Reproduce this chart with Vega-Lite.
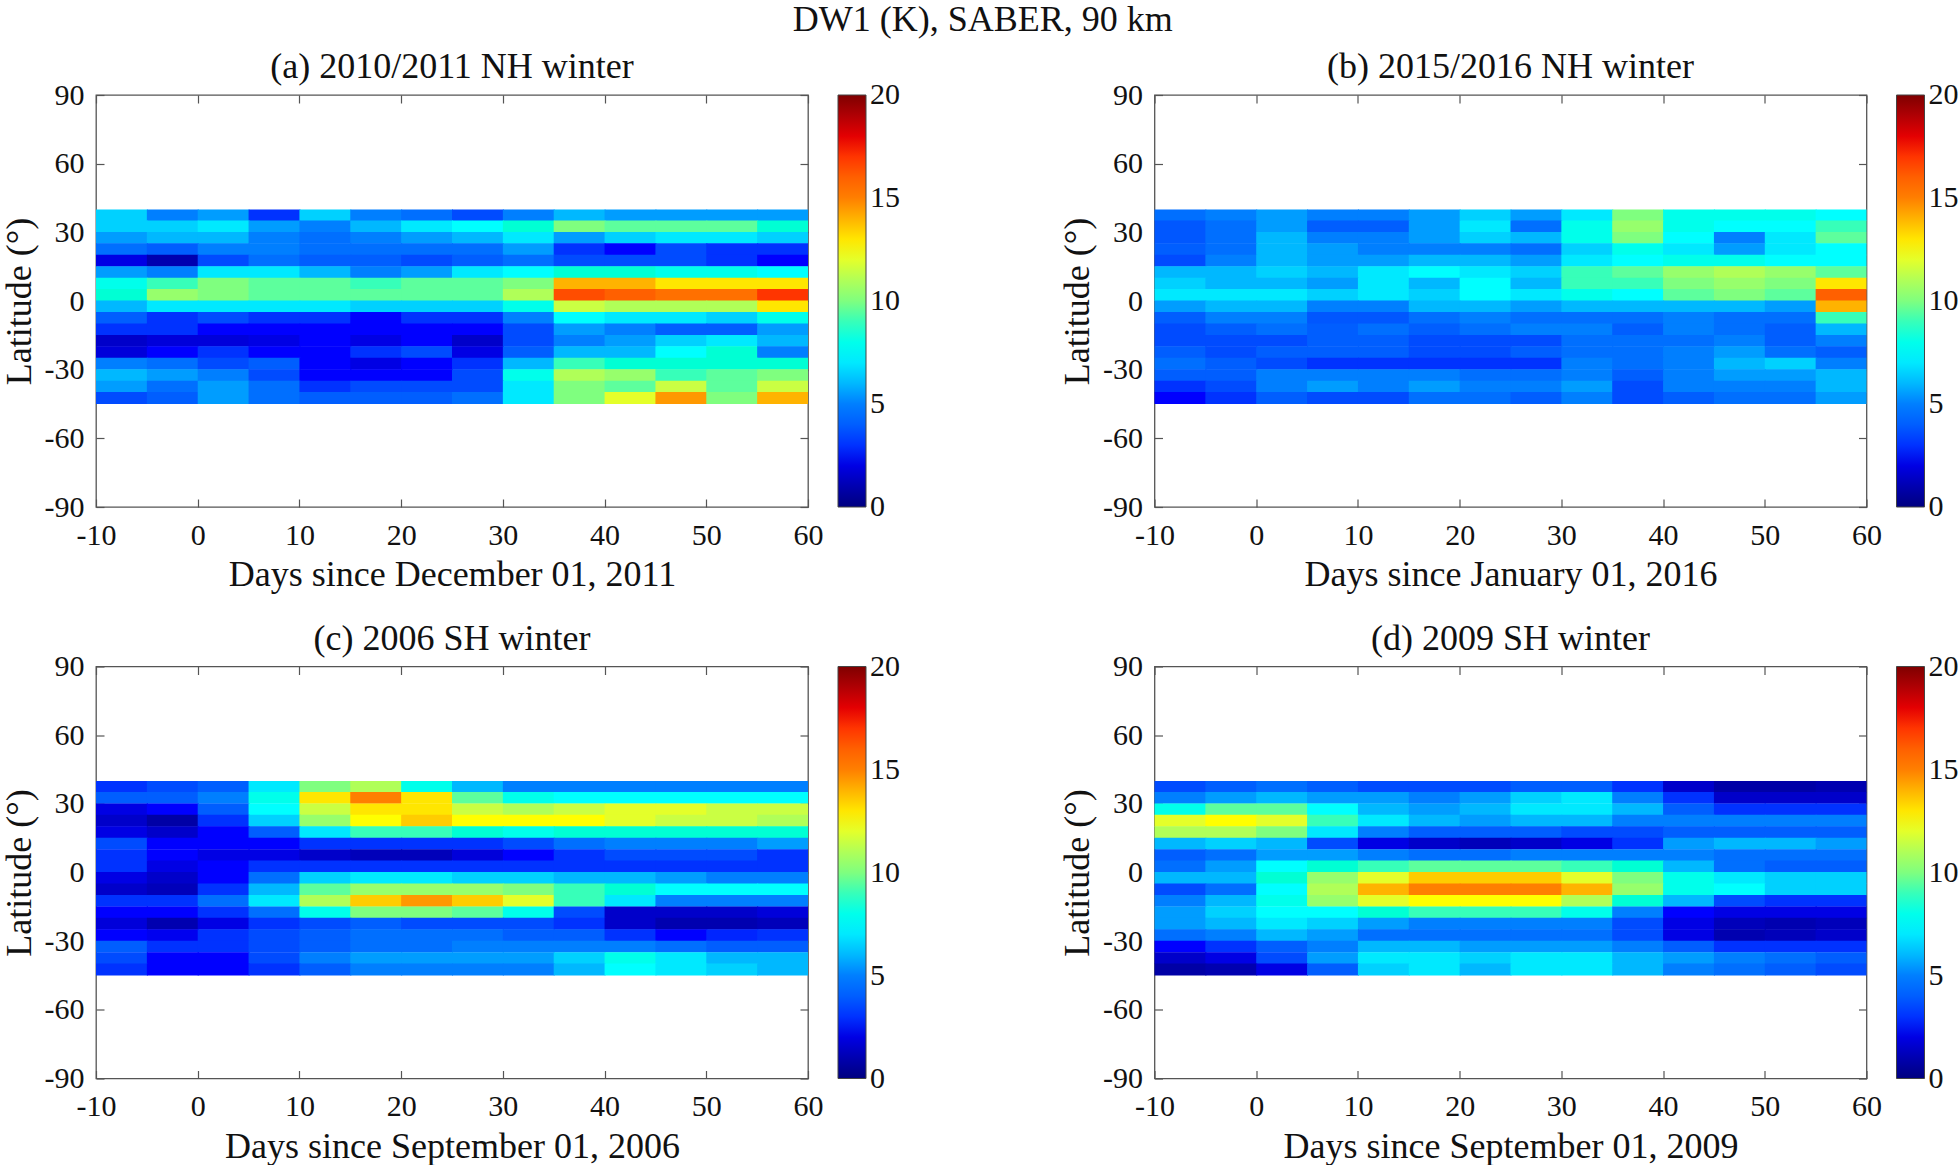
{"$schema":"https://vega.github.io/schema/vega-lite/v6.json","background":"white","padding":{"left":0,"top":2,"right":0,"bottom":0},
"title":{"text":"DW1 (K), SABER, 90 km","font":"Liberation Serif","fontSize":36,"fontWeight":"normal","color":"#111","anchor":"middle","offset":9,"dx":3},
"datasets":{
"a":[
{"d":-10,"y":35,"v":6.5},{"d":-5,"y":35,"v":5},{"d":0,"y":35,"v":5.5},{"d":5,"y":35,"v":3},{"d":10,"y":35,"v":6.5},{"d":15,"y":35,"v":5},{"d":20,"y":35,"v":4.5},{"d":25,"y":35,"v":3.5},{"d":30,"y":35,"v":5},{"d":35,"y":35,"v":6},{"d":40,"y":35,"v":5.5},{"d":45,"y":35,"v":5.5},{"d":50,"y":35,"v":5.5},{"d":55,"y":35,"v":5.5},
{"d":-10,"y":30,"v":6.5},{"d":-5,"y":30,"v":6.5},{"d":0,"y":30,"v":7},{"d":5,"y":30,"v":5.5},{"d":10,"y":30,"v":5},{"d":15,"y":30,"v":6},{"d":20,"y":30,"v":7},{"d":25,"y":30,"v":7.5},{"d":30,"y":30,"v":8.5},{"d":35,"y":30,"v":10},{"d":40,"y":30,"v":9.5},{"d":45,"y":30,"v":9.5},{"d":50,"y":30,"v":9.5},{"d":55,"y":30,"v":8.5},
{"d":-10,"y":25,"v":5.5},{"d":-5,"y":25,"v":6},{"d":0,"y":25,"v":6},{"d":5,"y":25,"v":5},{"d":10,"y":25,"v":4.5},{"d":15,"y":25,"v":5},{"d":20,"y":25,"v":5.5},{"d":25,"y":25,"v":6},{"d":30,"y":25,"v":7},{"d":35,"y":25,"v":5.5},{"d":40,"y":25,"v":6.5},{"d":45,"y":25,"v":7},{"d":50,"y":25,"v":7},{"d":55,"y":25,"v":6.5},
{"d":-10,"y":20,"v":4.5},{"d":-5,"y":20,"v":4},{"d":0,"y":20,"v":5},{"d":5,"y":20,"v":5},{"d":10,"y":20,"v":4.5},{"d":15,"y":20,"v":4.5},{"d":20,"y":20,"v":4.5},{"d":25,"y":20,"v":4.5},{"d":30,"y":20,"v":5.5},{"d":35,"y":20,"v":3},{"d":40,"y":20,"v":2.5},{"d":45,"y":20,"v":3.5},{"d":50,"y":20,"v":3},{"d":55,"y":20,"v":3},
{"d":-10,"y":15,"v":2},{"d":-5,"y":15,"v":1},{"d":0,"y":15,"v":3.5},{"d":5,"y":15,"v":4.5},{"d":10,"y":15,"v":4},{"d":15,"y":15,"v":4},{"d":20,"y":15,"v":3.5},{"d":25,"y":15,"v":4},{"d":30,"y":15,"v":4.5},{"d":35,"y":15,"v":3.5},{"d":40,"y":15,"v":3.5},{"d":45,"y":15,"v":3.5},{"d":50,"y":15,"v":3},{"d":55,"y":15,"v":2.5},
{"d":-10,"y":10,"v":5.5},{"d":-5,"y":10,"v":5},{"d":0,"y":10,"v":7},{"d":5,"y":10,"v":7},{"d":10,"y":10,"v":6},{"d":15,"y":10,"v":5},{"d":20,"y":10,"v":5.5},{"d":25,"y":10,"v":7},{"d":30,"y":10,"v":7.5},{"d":35,"y":10,"v":8.5},{"d":40,"y":10,"v":8.5},{"d":45,"y":10,"v":8},{"d":50,"y":10,"v":8},{"d":55,"y":10,"v":7.5},
{"d":-10,"y":5,"v":8},{"d":-5,"y":5,"v":9},{"d":0,"y":5,"v":10},{"d":5,"y":5,"v":9.5},{"d":10,"y":5,"v":9.5},{"d":15,"y":5,"v":9},{"d":20,"y":5,"v":9.5},{"d":25,"y":5,"v":9.5},{"d":30,"y":5,"v":10},{"d":35,"y":5,"v":14},{"d":40,"y":5,"v":14},{"d":45,"y":5,"v":13},{"d":50,"y":5,"v":13},{"d":55,"y":5,"v":13},
{"d":-10,"y":0,"v":8.5},{"d":-5,"y":0,"v":10.5},{"d":0,"y":0,"v":10},{"d":5,"y":0,"v":9.5},{"d":10,"y":0,"v":9.5},{"d":15,"y":0,"v":9.5},{"d":20,"y":0,"v":9.5},{"d":25,"y":0,"v":9.5},{"d":30,"y":0,"v":11},{"d":35,"y":0,"v":16.5},{"d":40,"y":0,"v":16},{"d":45,"y":0,"v":15.5},{"d":50,"y":0,"v":15.5},{"d":55,"y":0,"v":17},
{"d":-10,"y":-5,"v":6},{"d":-5,"y":-5,"v":7},{"d":0,"y":-5,"v":7},{"d":5,"y":-5,"v":7},{"d":10,"y":-5,"v":7},{"d":15,"y":-5,"v":6.5},{"d":20,"y":-5,"v":6.5},{"d":25,"y":-5,"v":6.5},{"d":30,"y":-5,"v":8},{"d":35,"y":-5,"v":11.5},{"d":40,"y":-5,"v":11},{"d":45,"y":-5,"v":11},{"d":50,"y":-5,"v":11},{"d":55,"y":-5,"v":13},
{"d":-10,"y":-10,"v":4},{"d":-5,"y":-10,"v":3},{"d":0,"y":-10,"v":3.5},{"d":5,"y":-10,"v":3},{"d":10,"y":-10,"v":3},{"d":15,"y":-10,"v":2.5},{"d":20,"y":-10,"v":3},{"d":25,"y":-10,"v":3},{"d":30,"y":-10,"v":5},{"d":35,"y":-10,"v":7.5},{"d":40,"y":-10,"v":7},{"d":45,"y":-10,"v":7},{"d":50,"y":-10,"v":6.5},{"d":55,"y":-10,"v":8},
{"d":-10,"y":-15,"v":3},{"d":-5,"y":-15,"v":3},{"d":0,"y":-15,"v":2.5},{"d":5,"y":-15,"v":2.5},{"d":10,"y":-15,"v":2.5},{"d":15,"y":-15,"v":2.5},{"d":20,"y":-15,"v":2.5},{"d":25,"y":-15,"v":2.5},{"d":30,"y":-15,"v":3.5},{"d":35,"y":-15,"v":5.5},{"d":40,"y":-15,"v":5},{"d":45,"y":-15,"v":4},{"d":50,"y":-15,"v":4},{"d":55,"y":-15,"v":5.5},
{"d":-10,"y":-20,"v":1.5},{"d":-5,"y":-20,"v":1.8},{"d":0,"y":-20,"v":1.8},{"d":5,"y":-20,"v":2},{"d":10,"y":-20,"v":2.5},{"d":15,"y":-20,"v":2},{"d":20,"y":-20,"v":2.5},{"d":25,"y":-20,"v":1.5},{"d":30,"y":-20,"v":3.5},{"d":35,"y":-20,"v":5},{"d":40,"y":-20,"v":5.5},{"d":45,"y":-20,"v":6.5},{"d":50,"y":-20,"v":7},{"d":55,"y":-20,"v":6},
{"d":-10,"y":-25,"v":1.8},{"d":-5,"y":-25,"v":2.5},{"d":0,"y":-25,"v":3},{"d":5,"y":-25,"v":2.5},{"d":10,"y":-25,"v":2.5},{"d":15,"y":-25,"v":3},{"d":20,"y":-25,"v":3.5},{"d":25,"y":-25,"v":2},{"d":30,"y":-25,"v":4},{"d":35,"y":-25,"v":6},{"d":40,"y":-25,"v":6},{"d":45,"y":-25,"v":7.5},{"d":50,"y":-25,"v":8.5},{"d":55,"y":-25,"v":5},
{"d":-10,"y":-30,"v":5},{"d":-5,"y":-30,"v":4.5},{"d":0,"y":-30,"v":3.5},{"d":5,"y":-30,"v":4},{"d":10,"y":-30,"v":2.5},{"d":15,"y":-30,"v":2},{"d":20,"y":-30,"v":2.5},{"d":25,"y":-30,"v":3},{"d":30,"y":-30,"v":6},{"d":35,"y":-30,"v":9},{"d":40,"y":-30,"v":8.5},{"d":45,"y":-30,"v":8.5},{"d":50,"y":-30,"v":8.5},{"d":55,"y":-30,"v":8.5},
{"d":-10,"y":-35,"v":6},{"d":-5,"y":-35,"v":5.5},{"d":0,"y":-35,"v":5},{"d":5,"y":-35,"v":3.5},{"d":10,"y":-35,"v":2.5},{"d":15,"y":-35,"v":2.5},{"d":20,"y":-35,"v":2.5},{"d":25,"y":-35,"v":3.5},{"d":30,"y":-35,"v":8},{"d":35,"y":-35,"v":11},{"d":40,"y":-35,"v":10.5},{"d":45,"y":-35,"v":9},{"d":50,"y":-35,"v":9.5},{"d":55,"y":-35,"v":10},
{"d":-10,"y":-40,"v":5.5},{"d":-5,"y":-40,"v":4.5},{"d":0,"y":-40,"v":5.5},{"d":5,"y":-40,"v":4.5},{"d":10,"y":-40,"v":3},{"d":15,"y":-40,"v":3.5},{"d":20,"y":-40,"v":3.5},{"d":25,"y":-40,"v":3.5},{"d":30,"y":-40,"v":7},{"d":35,"y":-40,"v":10},{"d":40,"y":-40,"v":9.5},{"d":45,"y":-40,"v":11.5},{"d":50,"y":-40,"v":9.5},{"d":55,"y":-40,"v":11.5},
{"d":-10,"y":-45,"v":3.5},{"d":-5,"y":-45,"v":4},{"d":0,"y":-45,"v":5.5},{"d":5,"y":-45,"v":4.5},{"d":10,"y":-45,"v":4},{"d":15,"y":-45,"v":4},{"d":20,"y":-45,"v":4},{"d":25,"y":-45,"v":4.5},{"d":30,"y":-45,"v":7},{"d":35,"y":-45,"v":10},{"d":40,"y":-45,"v":12},{"d":45,"y":-45,"v":14.5},{"d":50,"y":-45,"v":10},{"d":55,"y":-45,"v":14}
],
"b":[
{"d":-10,"y":35,"v":4.5},{"d":-5,"y":35,"v":5},{"d":0,"y":35,"v":5.5},{"d":5,"y":35,"v":5},{"d":10,"y":35,"v":5},{"d":15,"y":35,"v":5.5},{"d":20,"y":35,"v":6.5},{"d":25,"y":35,"v":5.5},{"d":30,"y":35,"v":7},{"d":35,"y":35,"v":10},{"d":40,"y":35,"v":8},{"d":45,"y":35,"v":8},{"d":50,"y":35,"v":8},{"d":55,"y":35,"v":7.5},
{"d":-10,"y":30,"v":3.8},{"d":-5,"y":30,"v":4.5},{"d":0,"y":30,"v":5.5},{"d":5,"y":30,"v":4},{"d":10,"y":30,"v":4},{"d":15,"y":30,"v":5.5},{"d":20,"y":30,"v":7},{"d":25,"y":30,"v":4.5},{"d":30,"y":30,"v":8},{"d":35,"y":30,"v":10.5},{"d":40,"y":30,"v":8},{"d":45,"y":30,"v":7.5},{"d":50,"y":30,"v":7.5},{"d":55,"y":30,"v":9},
{"d":-10,"y":25,"v":3.8},{"d":-5,"y":25,"v":4.5},{"d":0,"y":25,"v":6},{"d":5,"y":25,"v":5},{"d":10,"y":25,"v":5},{"d":15,"y":25,"v":5.5},{"d":20,"y":25,"v":6.5},{"d":25,"y":25,"v":6},{"d":30,"y":25,"v":8},{"d":35,"y":25,"v":10},{"d":40,"y":25,"v":7.5},{"d":45,"y":25,"v":5},{"d":50,"y":25,"v":7},{"d":55,"y":25,"v":9.5},
{"d":-10,"y":20,"v":4},{"d":-5,"y":20,"v":4.5},{"d":0,"y":20,"v":6},{"d":5,"y":20,"v":5.5},{"d":10,"y":20,"v":5},{"d":15,"y":20,"v":5},{"d":20,"y":20,"v":5},{"d":25,"y":20,"v":4.5},{"d":30,"y":20,"v":6.5},{"d":35,"y":20,"v":8},{"d":40,"y":20,"v":7},{"d":45,"y":20,"v":5.5},{"d":50,"y":20,"v":7},{"d":55,"y":20,"v":7.5},
{"d":-10,"y":15,"v":3.5},{"d":-5,"y":15,"v":5},{"d":0,"y":15,"v":6},{"d":5,"y":15,"v":5.5},{"d":10,"y":15,"v":5.5},{"d":15,"y":15,"v":6},{"d":20,"y":15,"v":6},{"d":25,"y":15,"v":5.5},{"d":30,"y":15,"v":7},{"d":35,"y":15,"v":7.5},{"d":40,"y":15,"v":8},{"d":45,"y":15,"v":8},{"d":50,"y":15,"v":7.5},{"d":55,"y":15,"v":7.5},
{"d":-10,"y":10,"v":6},{"d":-5,"y":10,"v":6},{"d":0,"y":10,"v":6.5},{"d":5,"y":10,"v":6},{"d":10,"y":10,"v":7},{"d":15,"y":10,"v":7.5},{"d":20,"y":10,"v":7},{"d":25,"y":10,"v":6.5},{"d":30,"y":10,"v":9},{"d":35,"y":10,"v":9.5},{"d":40,"y":10,"v":10.5},{"d":45,"y":10,"v":11},{"d":50,"y":10,"v":10.5},{"d":55,"y":10,"v":9.5},
{"d":-10,"y":5,"v":6.5},{"d":-5,"y":5,"v":6},{"d":0,"y":5,"v":6},{"d":5,"y":5,"v":5.5},{"d":10,"y":5,"v":7},{"d":15,"y":5,"v":6},{"d":20,"y":5,"v":7.5},{"d":25,"y":5,"v":6},{"d":30,"y":5,"v":9},{"d":35,"y":5,"v":9},{"d":40,"y":5,"v":10},{"d":45,"y":5,"v":10.5},{"d":50,"y":5,"v":10},{"d":55,"y":5,"v":13},
{"d":-10,"y":0,"v":7},{"d":-5,"y":0,"v":7},{"d":0,"y":0,"v":7},{"d":5,"y":0,"v":6.5},{"d":10,"y":0,"v":7},{"d":15,"y":0,"v":6.5},{"d":20,"y":0,"v":7.5},{"d":25,"y":0,"v":7},{"d":30,"y":0,"v":8},{"d":35,"y":0,"v":7.5},{"d":40,"y":0,"v":9.5},{"d":45,"y":0,"v":10},{"d":50,"y":0,"v":9.5},{"d":55,"y":0,"v":16},
{"d":-10,"y":-5,"v":5.5},{"d":-5,"y":-5,"v":6},{"d":0,"y":-5,"v":6},{"d":5,"y":-5,"v":5},{"d":10,"y":-5,"v":5},{"d":15,"y":-5,"v":6},{"d":20,"y":-5,"v":6},{"d":25,"y":-5,"v":5.5},{"d":30,"y":-5,"v":6},{"d":35,"y":-5,"v":6},{"d":40,"y":-5,"v":6},{"d":45,"y":-5,"v":6},{"d":50,"y":-5,"v":5.5},{"d":55,"y":-5,"v":14},
{"d":-10,"y":-10,"v":4},{"d":-5,"y":-10,"v":5},{"d":0,"y":-10,"v":5},{"d":5,"y":-10,"v":3.8},{"d":10,"y":-10,"v":3.8},{"d":15,"y":-10,"v":4.5},{"d":20,"y":-10,"v":5},{"d":25,"y":-10,"v":4.5},{"d":30,"y":-10,"v":4.5},{"d":35,"y":-10,"v":4.5},{"d":40,"y":-10,"v":5},{"d":45,"y":-10,"v":4.5},{"d":50,"y":-10,"v":4.5},{"d":55,"y":-10,"v":9},
{"d":-10,"y":-15,"v":3.5},{"d":-5,"y":-15,"v":4},{"d":0,"y":-15,"v":4.5},{"d":5,"y":-15,"v":4},{"d":10,"y":-15,"v":4.5},{"d":15,"y":-15,"v":4},{"d":20,"y":-15,"v":4.5},{"d":25,"y":-15,"v":5},{"d":30,"y":-15,"v":5},{"d":35,"y":-15,"v":4},{"d":40,"y":-15,"v":5},{"d":45,"y":-15,"v":4.5},{"d":50,"y":-15,"v":4},{"d":55,"y":-15,"v":6},
{"d":-10,"y":-20,"v":3.5},{"d":-5,"y":-20,"v":3.5},{"d":0,"y":-20,"v":3.5},{"d":5,"y":-20,"v":4},{"d":10,"y":-20,"v":4},{"d":15,"y":-20,"v":3.5},{"d":20,"y":-20,"v":3.5},{"d":25,"y":-20,"v":3.5},{"d":30,"y":-20,"v":4.5},{"d":35,"y":-20,"v":4.5},{"d":40,"y":-20,"v":4.5},{"d":45,"y":-20,"v":5},{"d":50,"y":-20,"v":4},{"d":55,"y":-20,"v":5},
{"d":-10,"y":-25,"v":4},{"d":-5,"y":-25,"v":3.5},{"d":0,"y":-25,"v":4},{"d":5,"y":-25,"v":4},{"d":10,"y":-25,"v":4},{"d":15,"y":-25,"v":3.5},{"d":20,"y":-25,"v":3.5},{"d":25,"y":-25,"v":4},{"d":30,"y":-25,"v":4.5},{"d":35,"y":-25,"v":4.5},{"d":40,"y":-25,"v":5},{"d":45,"y":-25,"v":5.5},{"d":50,"y":-25,"v":4.5},{"d":55,"y":-25,"v":4},
{"d":-10,"y":-30,"v":4.5},{"d":-5,"y":-30,"v":4},{"d":0,"y":-30,"v":3.5},{"d":5,"y":-30,"v":3},{"d":10,"y":-30,"v":3},{"d":15,"y":-30,"v":3},{"d":20,"y":-30,"v":3},{"d":25,"y":-30,"v":3},{"d":30,"y":-30,"v":5},{"d":35,"y":-30,"v":4.5},{"d":40,"y":-30,"v":5},{"d":45,"y":-30,"v":6},{"d":50,"y":-30,"v":6.5},{"d":55,"y":-30,"v":5},
{"d":-10,"y":-35,"v":4},{"d":-5,"y":-35,"v":4},{"d":0,"y":-35,"v":5},{"d":5,"y":-35,"v":5},{"d":10,"y":-35,"v":5},{"d":15,"y":-35,"v":5},{"d":20,"y":-35,"v":4.5},{"d":25,"y":-35,"v":4.5},{"d":30,"y":-35,"v":5},{"d":35,"y":-35,"v":4},{"d":40,"y":-35,"v":5},{"d":45,"y":-35,"v":5.5},{"d":50,"y":-35,"v":5.5},{"d":55,"y":-35,"v":6},
{"d":-10,"y":-40,"v":3},{"d":-5,"y":-40,"v":3.5},{"d":0,"y":-40,"v":5},{"d":5,"y":-40,"v":5.5},{"d":10,"y":-40,"v":5},{"d":15,"y":-40,"v":5.5},{"d":20,"y":-40,"v":5},{"d":25,"y":-40,"v":5},{"d":30,"y":-40,"v":5.5},{"d":35,"y":-40,"v":3.5},{"d":40,"y":-40,"v":5},{"d":45,"y":-40,"v":5},{"d":50,"y":-40,"v":5},{"d":55,"y":-40,"v":6},
{"d":-10,"y":-45,"v":2.5},{"d":-5,"y":-45,"v":3},{"d":0,"y":-45,"v":4},{"d":5,"y":-45,"v":3.5},{"d":10,"y":-45,"v":3.5},{"d":15,"y":-45,"v":4.5},{"d":20,"y":-45,"v":4.5},{"d":25,"y":-45,"v":4},{"d":30,"y":-45,"v":5},{"d":35,"y":-45,"v":3.5},{"d":40,"y":-45,"v":4},{"d":45,"y":-45,"v":4.5},{"d":50,"y":-45,"v":4.5},{"d":55,"y":-45,"v":5.5}
],
"c":[
{"d":-10,"y":35,"v":3},{"d":-5,"y":35,"v":3.5},{"d":0,"y":35,"v":4},{"d":5,"y":35,"v":7},{"d":10,"y":35,"v":10},{"d":15,"y":35,"v":11},{"d":20,"y":35,"v":8},{"d":25,"y":35,"v":6},{"d":30,"y":35,"v":5},{"d":35,"y":35,"v":5},{"d":40,"y":35,"v":5},{"d":45,"y":35,"v":5},{"d":50,"y":35,"v":5},{"d":55,"y":35,"v":5},
{"d":-10,"y":30,"v":4},{"d":-5,"y":30,"v":4},{"d":0,"y":30,"v":5},{"d":5,"y":30,"v":8},{"d":10,"y":30,"v":13},{"d":15,"y":30,"v":15},{"d":20,"y":30,"v":13},{"d":25,"y":30,"v":9.5},{"d":30,"y":30,"v":8},{"d":35,"y":30,"v":7.5},{"d":40,"y":30,"v":7.5},{"d":45,"y":30,"v":7.5},{"d":50,"y":30,"v":7.5},{"d":55,"y":30,"v":7.5},
{"d":-10,"y":25,"v":2},{"d":-5,"y":25,"v":2.5},{"d":0,"y":25,"v":4},{"d":5,"y":25,"v":7.5},{"d":10,"y":25,"v":11.5},{"d":15,"y":25,"v":13},{"d":20,"y":25,"v":13},{"d":25,"y":25,"v":11.5},{"d":30,"y":25,"v":11},{"d":35,"y":25,"v":11.5},{"d":40,"y":25,"v":12},{"d":45,"y":25,"v":12},{"d":50,"y":25,"v":11.5},{"d":55,"y":25,"v":11.5},
{"d":-10,"y":20,"v":1.5},{"d":-5,"y":20,"v":0.8},{"d":0,"y":20,"v":3},{"d":5,"y":20,"v":6.5},{"d":10,"y":20,"v":10.5},{"d":15,"y":20,"v":12.5},{"d":20,"y":20,"v":13.5},{"d":25,"y":20,"v":12.5},{"d":30,"y":20,"v":12.5},{"d":35,"y":20,"v":12.5},{"d":40,"y":20,"v":12},{"d":45,"y":20,"v":11.5},{"d":50,"y":20,"v":11.5},{"d":55,"y":20,"v":11},
{"d":-10,"y":15,"v":2},{"d":-5,"y":15,"v":1.5},{"d":0,"y":15,"v":2.5},{"d":5,"y":15,"v":4},{"d":10,"y":15,"v":7},{"d":15,"y":15,"v":9},{"d":20,"y":15,"v":9},{"d":25,"y":15,"v":8.5},{"d":30,"y":15,"v":8},{"d":35,"y":15,"v":8.5},{"d":40,"y":15,"v":8.5},{"d":45,"y":15,"v":8.5},{"d":50,"y":15,"v":8.5},{"d":55,"y":15,"v":8.5},
{"d":-10,"y":10,"v":3.5},{"d":-5,"y":10,"v":2.5},{"d":0,"y":10,"v":2.5},{"d":5,"y":10,"v":2.5},{"d":10,"y":10,"v":3},{"d":15,"y":10,"v":3},{"d":20,"y":10,"v":3},{"d":25,"y":10,"v":3},{"d":30,"y":10,"v":3.5},{"d":35,"y":10,"v":4.5},{"d":40,"y":10,"v":5},{"d":45,"y":10,"v":5},{"d":50,"y":10,"v":5},{"d":55,"y":10,"v":5.5},
{"d":-10,"y":5,"v":3},{"d":-5,"y":5,"v":2.5},{"d":0,"y":5,"v":2},{"d":5,"y":5,"v":2},{"d":10,"y":5,"v":1.5},{"d":15,"y":5,"v":1.2},{"d":20,"y":5,"v":1.2},{"d":25,"y":5,"v":1.8},{"d":30,"y":5,"v":2.5},{"d":35,"y":5,"v":3},{"d":40,"y":5,"v":3.5},{"d":45,"y":5,"v":3.5},{"d":50,"y":5,"v":3.5},{"d":55,"y":5,"v":3},
{"d":-10,"y":0,"v":3},{"d":-5,"y":0,"v":2},{"d":0,"y":0,"v":2.5},{"d":5,"y":0,"v":3},{"d":10,"y":0,"v":3},{"d":15,"y":0,"v":3},{"d":20,"y":0,"v":3},{"d":25,"y":0,"v":3},{"d":30,"y":0,"v":3},{"d":35,"y":0,"v":3},{"d":40,"y":0,"v":3},{"d":45,"y":0,"v":3},{"d":50,"y":0,"v":3},{"d":55,"y":0,"v":3},
{"d":-10,"y":-5,"v":2},{"d":-5,"y":-5,"v":1.5},{"d":0,"y":-5,"v":2.5},{"d":5,"y":-5,"v":4.5},{"d":10,"y":-5,"v":6.5},{"d":15,"y":-5,"v":7},{"d":20,"y":-5,"v":7},{"d":25,"y":-5,"v":6.5},{"d":30,"y":-5,"v":6.5},{"d":35,"y":-5,"v":6},{"d":40,"y":-5,"v":6},{"d":45,"y":-5,"v":5.5},{"d":50,"y":-5,"v":5},{"d":55,"y":-5,"v":5},
{"d":-10,"y":-10,"v":1.5},{"d":-5,"y":-10,"v":1.2},{"d":0,"y":-10,"v":3},{"d":5,"y":-10,"v":6},{"d":10,"y":-10,"v":9.5},{"d":15,"y":-10,"v":10.5},{"d":20,"y":-10,"v":10.5},{"d":25,"y":-10,"v":10.5},{"d":30,"y":-10,"v":10},{"d":35,"y":-10,"v":9},{"d":40,"y":-10,"v":8.5},{"d":45,"y":-10,"v":7.5},{"d":50,"y":-10,"v":7.5},{"d":55,"y":-10,"v":7.5},
{"d":-10,"y":-15,"v":3},{"d":-5,"y":-15,"v":3},{"d":0,"y":-15,"v":4.5},{"d":5,"y":-15,"v":7},{"d":10,"y":-15,"v":11},{"d":15,"y":-15,"v":13.5},{"d":20,"y":-15,"v":14.5},{"d":25,"y":-15,"v":13.5},{"d":30,"y":-15,"v":12},{"d":35,"y":-15,"v":9},{"d":40,"y":-15,"v":7},{"d":45,"y":-15,"v":5},{"d":50,"y":-15,"v":5},{"d":55,"y":-15,"v":5},
{"d":-10,"y":-20,"v":2.5},{"d":-5,"y":-20,"v":2.5},{"d":0,"y":-20,"v":3},{"d":5,"y":-20,"v":4.5},{"d":10,"y":-20,"v":8},{"d":15,"y":-20,"v":10},{"d":20,"y":-20,"v":10},{"d":25,"y":-20,"v":9.5},{"d":30,"y":-20,"v":8},{"d":35,"y":-20,"v":3.5},{"d":40,"y":-20,"v":1.5},{"d":45,"y":-20,"v":1.5},{"d":50,"y":-20,"v":1.5},{"d":55,"y":-20,"v":1.8},
{"d":-10,"y":-25,"v":1.8},{"d":-5,"y":-25,"v":1},{"d":0,"y":-25,"v":2},{"d":5,"y":-25,"v":3},{"d":10,"y":-25,"v":3.5},{"d":15,"y":-25,"v":4},{"d":20,"y":-25,"v":3.5},{"d":25,"y":-25,"v":3.5},{"d":30,"y":-25,"v":3.5},{"d":35,"y":-25,"v":3},{"d":40,"y":-25,"v":1.5},{"d":45,"y":-25,"v":1},{"d":50,"y":-25,"v":1},{"d":55,"y":-25,"v":1.2},
{"d":-10,"y":-30,"v":2.5},{"d":-5,"y":-30,"v":2.2},{"d":0,"y":-30,"v":3},{"d":5,"y":-30,"v":3.5},{"d":10,"y":-30,"v":4},{"d":15,"y":-30,"v":4.5},{"d":20,"y":-30,"v":4.5},{"d":25,"y":-30,"v":4.5},{"d":30,"y":-30,"v":4},{"d":35,"y":-30,"v":4},{"d":40,"y":-30,"v":3},{"d":45,"y":-30,"v":2.5},{"d":50,"y":-30,"v":2.8},{"d":55,"y":-30,"v":3},
{"d":-10,"y":-35,"v":4},{"d":-5,"y":-35,"v":3},{"d":0,"y":-35,"v":3},{"d":5,"y":-35,"v":3.5},{"d":10,"y":-35,"v":4},{"d":15,"y":-35,"v":4.5},{"d":20,"y":-35,"v":4.5},{"d":25,"y":-35,"v":5},{"d":30,"y":-35,"v":5},{"d":35,"y":-35,"v":5},{"d":40,"y":-35,"v":5},{"d":45,"y":-35,"v":4.5},{"d":50,"y":-35,"v":4},{"d":55,"y":-35,"v":4},
{"d":-10,"y":-40,"v":3.5},{"d":-5,"y":-40,"v":2.5},{"d":0,"y":-40,"v":2.5},{"d":5,"y":-40,"v":3.5},{"d":10,"y":-40,"v":5},{"d":15,"y":-40,"v":5.5},{"d":20,"y":-40,"v":5.5},{"d":25,"y":-40,"v":5.5},{"d":30,"y":-40,"v":5.5},{"d":35,"y":-40,"v":6.5},{"d":40,"y":-40,"v":8},{"d":45,"y":-40,"v":7},{"d":50,"y":-40,"v":6},{"d":55,"y":-40,"v":6},
{"d":-10,"y":-45,"v":3},{"d":-5,"y":-45,"v":2.5},{"d":0,"y":-45,"v":2.5},{"d":5,"y":-45,"v":3},{"d":10,"y":-45,"v":4},{"d":15,"y":-45,"v":5},{"d":20,"y":-45,"v":5},{"d":25,"y":-45,"v":5},{"d":30,"y":-45,"v":5},{"d":35,"y":-45,"v":6},{"d":40,"y":-45,"v":7.5},{"d":45,"y":-45,"v":7},{"d":50,"y":-45,"v":6.5},{"d":55,"y":-45,"v":6}
],
"e":[
{"d":-10,"y":35,"v":3.5},{"d":-5,"y":35,"v":4},{"d":0,"y":35,"v":4.5},{"d":5,"y":35,"v":4},{"d":10,"y":35,"v":3.5},{"d":15,"y":35,"v":3.5},{"d":20,"y":35,"v":3.5},{"d":25,"y":35,"v":4},{"d":30,"y":35,"v":4},{"d":35,"y":35,"v":3},{"d":40,"y":35,"v":1.5},{"d":45,"y":35,"v":0.8},{"d":50,"y":35,"v":0.8},{"d":55,"y":35,"v":1},
{"d":-10,"y":30,"v":5},{"d":-5,"y":30,"v":5.5},{"d":0,"y":30,"v":6},{"d":5,"y":30,"v":5.5},{"d":10,"y":30,"v":5.5},{"d":15,"y":30,"v":5},{"d":20,"y":30,"v":5.5},{"d":25,"y":30,"v":6.5},{"d":30,"y":30,"v":7},{"d":35,"y":30,"v":5},{"d":40,"y":30,"v":3},{"d":45,"y":30,"v":1.5},{"d":50,"y":30,"v":1.5},{"d":55,"y":30,"v":1.5},
{"d":-10,"y":25,"v":8},{"d":-5,"y":25,"v":9.5},{"d":0,"y":25,"v":9.5},{"d":5,"y":25,"v":7.5},{"d":10,"y":25,"v":6},{"d":15,"y":25,"v":5.5},{"d":20,"y":25,"v":6},{"d":25,"y":25,"v":7},{"d":30,"y":25,"v":7},{"d":35,"y":25,"v":6},{"d":40,"y":25,"v":4},{"d":45,"y":25,"v":3},{"d":50,"y":25,"v":3},{"d":55,"y":25,"v":3},
{"d":-10,"y":20,"v":12},{"d":-5,"y":20,"v":12.5},{"d":0,"y":20,"v":12},{"d":5,"y":20,"v":9},{"d":10,"y":20,"v":7},{"d":15,"y":20,"v":6},{"d":20,"y":20,"v":5.5},{"d":25,"y":20,"v":6},{"d":30,"y":20,"v":6},{"d":35,"y":20,"v":5},{"d":40,"y":20,"v":5},{"d":45,"y":20,"v":5},{"d":50,"y":20,"v":5},{"d":55,"y":20,"v":5},
{"d":-10,"y":15,"v":11},{"d":-5,"y":15,"v":11},{"d":0,"y":15,"v":10},{"d":5,"y":15,"v":7},{"d":10,"y":15,"v":5},{"d":15,"y":15,"v":4},{"d":20,"y":15,"v":4},{"d":25,"y":15,"v":4},{"d":30,"y":15,"v":3.5},{"d":35,"y":15,"v":3.5},{"d":40,"y":15,"v":4},{"d":45,"y":15,"v":4},{"d":50,"y":15,"v":4},{"d":55,"y":15,"v":4},
{"d":-10,"y":10,"v":6},{"d":-5,"y":10,"v":6.5},{"d":0,"y":10,"v":6},{"d":5,"y":10,"v":3.5},{"d":10,"y":10,"v":2},{"d":15,"y":10,"v":1.5},{"d":20,"y":10,"v":1.2},{"d":25,"y":10,"v":1.5},{"d":30,"y":10,"v":2},{"d":35,"y":10,"v":3},{"d":40,"y":10,"v":5.5},{"d":45,"y":10,"v":6},{"d":50,"y":10,"v":6},{"d":55,"y":10,"v":5.5},
{"d":-10,"y":5,"v":4},{"d":-5,"y":5,"v":4.5},{"d":0,"y":5,"v":5.5},{"d":5,"y":5,"v":5.5},{"d":10,"y":5,"v":5},{"d":15,"y":5,"v":4.5},{"d":20,"y":5,"v":4.5},{"d":25,"y":5,"v":5},{"d":30,"y":5,"v":5},{"d":35,"y":5,"v":5},{"d":40,"y":5,"v":5},{"d":45,"y":5,"v":4.5},{"d":50,"y":5,"v":4.5},{"d":55,"y":5,"v":4.5},
{"d":-10,"y":0,"v":4.5},{"d":-5,"y":0,"v":5.5},{"d":0,"y":0,"v":7.5},{"d":5,"y":0,"v":8.5},{"d":10,"y":0,"v":9},{"d":15,"y":0,"v":9.5},{"d":20,"y":0,"v":9.5},{"d":25,"y":0,"v":9.5},{"d":30,"y":0,"v":9},{"d":35,"y":0,"v":8.5},{"d":40,"y":0,"v":6},{"d":45,"y":0,"v":4.5},{"d":50,"y":0,"v":4},{"d":55,"y":0,"v":4},
{"d":-10,"y":-5,"v":6},{"d":-5,"y":-5,"v":6},{"d":0,"y":-5,"v":8.5},{"d":5,"y":-5,"v":10.5},{"d":10,"y":-5,"v":12},{"d":15,"y":-5,"v":13.5},{"d":20,"y":-5,"v":13.5},{"d":25,"y":-5,"v":13.5},{"d":30,"y":-5,"v":12},{"d":35,"y":-5,"v":10},{"d":40,"y":-5,"v":8},{"d":45,"y":-5,"v":7},{"d":50,"y":-5,"v":6.5},{"d":55,"y":-5,"v":6.5},
{"d":-10,"y":-10,"v":3.5},{"d":-5,"y":-10,"v":4.5},{"d":0,"y":-10,"v":7.5},{"d":5,"y":-10,"v":11},{"d":10,"y":-10,"v":14},{"d":15,"y":-10,"v":15},{"d":20,"y":-10,"v":15},{"d":25,"y":-10,"v":15},{"d":30,"y":-10,"v":14},{"d":35,"y":-10,"v":10.5},{"d":40,"y":-10,"v":8},{"d":45,"y":-10,"v":7.5},{"d":50,"y":-10,"v":6.5},{"d":55,"y":-10,"v":6.5},
{"d":-10,"y":-15,"v":5},{"d":-5,"y":-15,"v":6},{"d":0,"y":-15,"v":8},{"d":5,"y":-15,"v":10.5},{"d":10,"y":-15,"v":12},{"d":15,"y":-15,"v":12.5},{"d":20,"y":-15,"v":12.5},{"d":25,"y":-15,"v":12.5},{"d":30,"y":-15,"v":11},{"d":35,"y":-15,"v":8.5},{"d":40,"y":-15,"v":6},{"d":45,"y":-15,"v":3.5},{"d":50,"y":-15,"v":3},{"d":55,"y":-15,"v":3},
{"d":-10,"y":-20,"v":5.5},{"d":-5,"y":-20,"v":6.5},{"d":0,"y":-20,"v":7.5},{"d":5,"y":-20,"v":7.5},{"d":10,"y":-20,"v":8.5},{"d":15,"y":-20,"v":9},{"d":20,"y":-20,"v":9},{"d":25,"y":-20,"v":9},{"d":30,"y":-20,"v":8},{"d":35,"y":-20,"v":5},{"d":40,"y":-20,"v":2.5},{"d":45,"y":-20,"v":2},{"d":50,"y":-20,"v":2},{"d":55,"y":-20,"v":2},
{"d":-10,"y":-25,"v":5.5},{"d":-5,"y":-25,"v":6},{"d":0,"y":-25,"v":7},{"d":5,"y":-25,"v":6.5},{"d":10,"y":-25,"v":5.5},{"d":15,"y":-25,"v":5},{"d":20,"y":-25,"v":5},{"d":25,"y":-25,"v":5},{"d":30,"y":-25,"v":5},{"d":35,"y":-25,"v":3.5},{"d":40,"y":-25,"v":2},{"d":45,"y":-25,"v":1.2},{"d":50,"y":-25,"v":1},{"d":55,"y":-25,"v":1.2},
{"d":-10,"y":-30,"v":4.5},{"d":-5,"y":-30,"v":5},{"d":0,"y":-30,"v":6},{"d":5,"y":-30,"v":5.5},{"d":10,"y":-30,"v":4.5},{"d":15,"y":-30,"v":4.5},{"d":20,"y":-30,"v":4.5},{"d":25,"y":-30,"v":4.5},{"d":30,"y":-30,"v":4.5},{"d":35,"y":-30,"v":3.5},{"d":40,"y":-30,"v":2},{"d":45,"y":-30,"v":1},{"d":50,"y":-30,"v":1.2},{"d":55,"y":-30,"v":1.5},
{"d":-10,"y":-35,"v":2.5},{"d":-5,"y":-35,"v":3},{"d":0,"y":-35,"v":4},{"d":5,"y":-35,"v":5},{"d":10,"y":-35,"v":6},{"d":15,"y":-35,"v":6},{"d":20,"y":-35,"v":5.5},{"d":25,"y":-35,"v":5.5},{"d":30,"y":-35,"v":5.5},{"d":35,"y":-35,"v":5},{"d":40,"y":-35,"v":4},{"d":45,"y":-35,"v":3},{"d":50,"y":-35,"v":3},{"d":55,"y":-35,"v":3},
{"d":-10,"y":-40,"v":1.5},{"d":-5,"y":-40,"v":2},{"d":0,"y":-40,"v":3.5},{"d":5,"y":-40,"v":5.5},{"d":10,"y":-40,"v":7},{"d":15,"y":-40,"v":7},{"d":20,"y":-40,"v":6.5},{"d":25,"y":-40,"v":7},{"d":30,"y":-40,"v":7},{"d":35,"y":-40,"v":6},{"d":40,"y":-40,"v":5.5},{"d":45,"y":-40,"v":5},{"d":50,"y":-40,"v":4.5},{"d":55,"y":-40,"v":4},
{"d":-10,"y":-45,"v":0.8},{"d":-5,"y":-45,"v":1},{"d":0,"y":-45,"v":2},{"d":5,"y":-45,"v":4},{"d":10,"y":-45,"v":6.5},{"d":15,"y":-45,"v":7},{"d":20,"y":-45,"v":6},{"d":25,"y":-45,"v":7},{"d":30,"y":-45,"v":7},{"d":35,"y":-45,"v":6},{"d":40,"y":-45,"v":5},{"d":45,"y":-45,"v":4.5},{"d":50,"y":-45,"v":4},{"d":55,"y":-45,"v":3.5}
]},
"columns":2,"spacing":{"column":157.5,"row":25.5},
"resolve":{"scale":{"color":"independent"},"legend":{"color":"independent"}},
"config":{"view":{"stroke":"#555","strokeWidth":1.3},"font":"Liberation Serif",
"range":{"heatmap":["#00007f","#0000ff","#007fff","#00ffff","#7fff7f","#ffff00","#ff7f00","#ff0000","#7f0000"],"ramp":["#00007f","#0000ff","#007fff","#00ffff","#7fff7f","#ffff00","#ff7f00","#ff0000","#7f0000"]},
"title":{"font":"Liberation Serif","fontSize":36,"fontWeight":"normal","color":"#111","offset":-6},
"axis":{"labelFont":"Liberation Serif","titleFont":"Liberation Serif","labelFontSize":30,"titleFontSize":36,"titleFontWeight":"normal","labelColor":"#111","titleColor":"#111","domain":false,"grid":false,"tickColor":"#555","tickWidth":1.2,"tickSize":-8,"labelPadding":20,"titlePadding":6,"labelFlush":false,"labelOverlap":false,"labelExpr":"''+datum.value"},
"axisX":{"labelPadding":21,"titlePadding":7.5},
"legend":{"labelFont":"Liberation Serif","labelFontSize":30,"labelColor":"#111","gradientStrokeColor":"#444","gradientStrokeWidth":1}},
"concat":[
{"title":"(a) 2010/2011 NH winter","width":712,"height":412,"resolve":{"axis":{"x":"independent","y":"independent"}},"layer":[
{"data":{"name":"a"},"transform":[{"calculate":"min(datum.d+5.1,60)","as":"d2"},{"calculate":"min(datum.y+5.2,40)","as":"y2"}],"mark":{"type":"rect"},
"encoding":{"x":{"field":"d","type":"quantitative","scale":{"domain":[-10,60],"nice":false},"axis":{"values":[-10,0,10,20,30,40,50,60],"title":"Days since December 01, 2011"}},"x2":{"field":"d2"},
"y":{"field":"y","type":"quantitative","scale":{"domain":[-90,90],"nice":false},"axis":{"values":[-90,-60,-30,0,30,60,90],"title":"Latitude (°)"}},"y2":{"field":"y2"},
"color":{"field":"v","type":"quantitative","scale":{"domain":[0,20]},"legend":{"type":"gradient","title":null,"values":[0,5,10,15,20],"gradientLength":412,"gradientThickness":28,"offset":29,"labelOffset":4,"encode":{"labels":{"update":{"baseline":{"value":"middle"}}}}}}}},
{"data":{"values":[{"d":-10,"y":-90}]},"mark":{"type":"point","opacity":0},"encoding":{"x":{"field":"d","type":"quantitative","axis":{"orient":"top","values":[-10,0,10,20,30,40,50,60],"labels":false,"title":null}},"y":{"field":"y","type":"quantitative","axis":{"orient":"right","values":[-90,-60,-30,0,30,60,90],"labels":false,"title":null}}}}
]},
{"title":"(b) 2015/2016 NH winter","width":712,"height":412,"resolve":{"axis":{"x":"independent","y":"independent"}},"layer":[
{"data":{"name":"b"},"transform":[{"calculate":"min(datum.d+5.1,60)","as":"d2"},{"calculate":"min(datum.y+5.2,40)","as":"y2"}],"mark":{"type":"rect"},
"encoding":{"x":{"field":"d","type":"quantitative","scale":{"domain":[-10,60],"nice":false},"axis":{"values":[-10,0,10,20,30,40,50,60],"title":"Days since January 01, 2016"}},"x2":{"field":"d2"},
"y":{"field":"y","type":"quantitative","scale":{"domain":[-90,90],"nice":false},"axis":{"values":[-90,-60,-30,0,30,60,90],"title":"Latitude (°)"}},"y2":{"field":"y2"},
"color":{"field":"v","type":"quantitative","scale":{"domain":[0,20]},"legend":{"type":"gradient","title":null,"values":[0,5,10,15,20],"gradientLength":412,"gradientThickness":28,"offset":29,"labelOffset":4,"encode":{"labels":{"update":{"baseline":{"value":"middle"}}}}}}}},
{"data":{"values":[{"d":-10,"y":-90}]},"mark":{"type":"point","opacity":0},"encoding":{"x":{"field":"d","type":"quantitative","axis":{"orient":"top","values":[-10,0,10,20,30,40,50,60],"labels":false,"title":null}},"y":{"field":"y","type":"quantitative","axis":{"orient":"right","values":[-90,-60,-30,0,30,60,90],"labels":false,"title":null}}}}
]},
{"title":"(c) 2006 SH winter","width":712,"height":412,"resolve":{"axis":{"x":"independent","y":"independent"}},"layer":[
{"data":{"name":"c"},"transform":[{"calculate":"min(datum.d+5.1,60)","as":"d2"},{"calculate":"min(datum.y+5.2,40)","as":"y2"}],"mark":{"type":"rect"},
"encoding":{"x":{"field":"d","type":"quantitative","scale":{"domain":[-10,60],"nice":false},"axis":{"values":[-10,0,10,20,30,40,50,60],"title":"Days since September 01, 2006"}},"x2":{"field":"d2"},
"y":{"field":"y","type":"quantitative","scale":{"domain":[-90,90],"nice":false},"axis":{"values":[-90,-60,-30,0,30,60,90],"title":"Latitude (°)"}},"y2":{"field":"y2"},
"color":{"field":"v","type":"quantitative","scale":{"domain":[0,20]},"legend":{"type":"gradient","title":null,"values":[0,5,10,15,20],"gradientLength":412,"gradientThickness":28,"offset":29,"labelOffset":4,"encode":{"labels":{"update":{"baseline":{"value":"middle"}}}}}}}},
{"data":{"values":[{"d":-10,"y":-90}]},"mark":{"type":"point","opacity":0},"encoding":{"x":{"field":"d","type":"quantitative","axis":{"orient":"top","values":[-10,0,10,20,30,40,50,60],"labels":false,"title":null}},"y":{"field":"y","type":"quantitative","axis":{"orient":"right","values":[-90,-60,-30,0,30,60,90],"labels":false,"title":null}}}}
]},
{"title":"(d) 2009 SH winter","width":712,"height":412,"resolve":{"axis":{"x":"independent","y":"independent"}},"layer":[
{"data":{"name":"e"},"transform":[{"calculate":"min(datum.d+5.1,60)","as":"d2"},{"calculate":"min(datum.y+5.2,40)","as":"y2"}],"mark":{"type":"rect"},
"encoding":{"x":{"field":"d","type":"quantitative","scale":{"domain":[-10,60],"nice":false},"axis":{"values":[-10,0,10,20,30,40,50,60],"title":"Days since September 01, 2009"}},"x2":{"field":"d2"},
"y":{"field":"y","type":"quantitative","scale":{"domain":[-90,90],"nice":false},"axis":{"values":[-90,-60,-30,0,30,60,90],"title":"Latitude (°)"}},"y2":{"field":"y2"},
"color":{"field":"v","type":"quantitative","scale":{"domain":[0,20]},"legend":{"type":"gradient","title":null,"values":[0,5,10,15,20],"gradientLength":412,"gradientThickness":28,"offset":29,"labelOffset":4,"encode":{"labels":{"update":{"baseline":{"value":"middle"}}}}}}}},
{"data":{"values":[{"d":-10,"y":-90}]},"mark":{"type":"point","opacity":0},"encoding":{"x":{"field":"d","type":"quantitative","axis":{"orient":"top","values":[-10,0,10,20,30,40,50,60],"labels":false,"title":null}},"y":{"field":"y","type":"quantitative","axis":{"orient":"right","values":[-90,-60,-30,0,30,60,90],"labels":false,"title":null}}}}
]}
]}
